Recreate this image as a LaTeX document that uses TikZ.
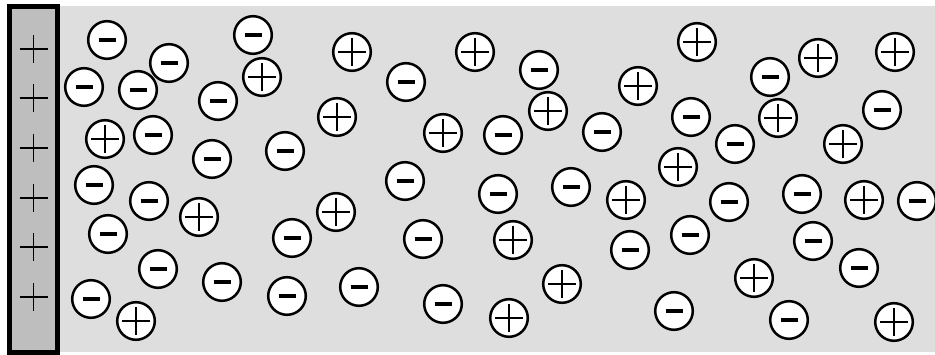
\documentclass[tikz,border=0pt]{standalone}
\usetikzlibrary{calc}
\definecolor{bggray}{HTML}{DEDEDE}
\definecolor{plategray}{HTML}{BEBEBE}
\tikzset{
  ion/.style={circle, draw=black, fill=white, line width=2.5pt, minimum size=37.6pt, inner sep=0pt},
  minusbar/.style={line width=3.8pt, line cap=butt},
  plusbar/.style={line width=1.8pt},
  plateplus/.style={line width=1.4pt},
}
\begin{document}
\begin{tikzpicture}[x=1pt,y=-1pt]
\useasboundingbox (0,0) rectangle (935,355);
\fill[bggray] (58,6) rectangle (935,352);
\draw[line width=5pt, fill=plategray] (9.5,6.5) rectangle (57.5,352.5);
\foreach \y [count=\i] in {49,98,148,198,247,297}{
  \coordinate (pp\i) at (33.5,\y);
  \draw[plateplus] (pp\i) ++(-14,0) -- ++(28,0);
  \draw[plateplus] (pp\i) ++(0,-14) -- ++(0,28);
}
% negative ions
\foreach \x/\y [count=\i] in {
 107/40, 253/35, 169/63, 406/82, 539/70, 770/77,
 84/87, 138/90, 218/101, 882/110, 691/117,
 153/135, 285/151, 503/135, 602/132, 735/144,
 212/159,
 94/185, 149/201, 405/181, 498/194, 571/187, 729/202, 802/194, 917/201,
 108/234, 292/238, 423/239, 630/250, 690/235, 813/241,
 158/269, 859/268, 222/282, 359/287,
 91/299, 287/296, 443/304, 674/311, 789/320}{
  \node[ion] (m\i) at (\x,\y) {};
  \draw[minusbar] (m\i.center) ++(-8.5,0) -- ++(17,0);
}
% positive ions
\foreach \x/\y [count=\i] in {
 352/52, 475/52, 697/42, 818/58, 895/52,
 262/77, 638/86,
 548/111, 778/118, 337/117,
 105/139, 443/133, 843/144,
 678/167,
 199/217, 626/200, 864/200,
 336/212, 513/240,
 754/278, 562/284,
 136/321, 509/318, 894/322}{
  \node[ion] (p\i) at (\x,\y) {};
  \draw[plusbar] (p\i.center) ++(-14,0) -- ++(28,0);
  \draw[plusbar] (p\i.center) ++(0,-14) -- ++(0,28);
}
\end{tikzpicture}
\end{document}
